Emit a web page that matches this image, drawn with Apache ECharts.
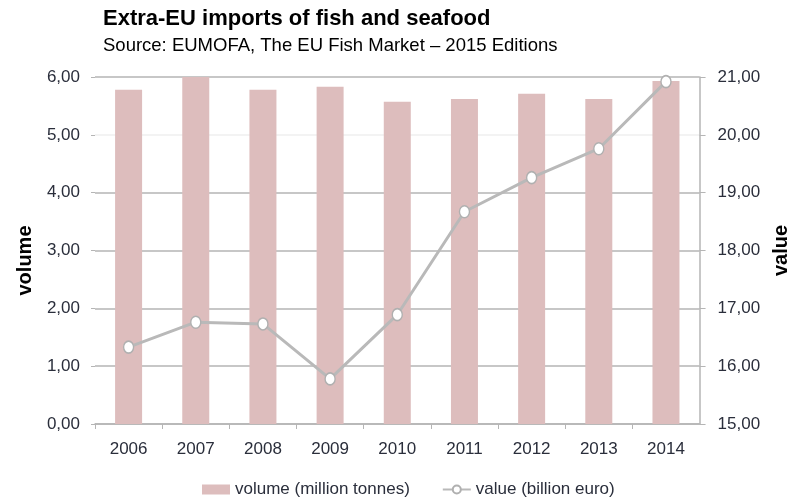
<!DOCTYPE html>
<html>
<head>
<meta charset="utf-8">
<script src="https://cdn.jsdelivr.net/npm/echarts@6/dist/echarts.min.js"></script>
<style>html,body{margin:0;padding:0;background:#fff}#c{width:799px;height:499px}</style>
</head>
<body>
<div id="c"></div>
<script>
var categories = ['2006','2007','2008','2009','2010','2011','2012','2013','2014'];
var volume = [5.78, 6.00, 5.78, 5.83, 5.57, 5.62, 5.71, 5.62, 5.93];
var value = [16.33, 16.76, 16.73, 15.78, 16.89, 18.67, 19.26, 19.76, 20.92];
var leftTicks = [0, 6, 1];   // min, max, interval
var rightTicks = [15, 21, 1];

var chart = echarts.init(document.getElementById('c'), null, {renderer: 'canvas'});
var tickFont = {color: '#2a2e3b', fontFamily: 'Liberation Sans', fontSize: 17};
function fmt(v){ return v.toFixed(2).replace('.', ','); }

chart.setOption({
  animation: false,
  title: {
    text: 'Extra-EU imports of fish and seafood',
    subtext: 'Source: EUMOFA, The EU Fish Market \u2013 2015 Editions',
    left: 98, top: 3, itemGap: 6,
    textStyle: {fontFamily: 'Liberation Sans', fontWeight: 'bold', fontSize: 22, lineHeight: 22, color: '#000'},
    subtextStyle: {fontFamily: 'Liberation Sans', fontSize: 18.5, lineHeight: 19, color: '#000'}
  },
  grid: {left: 95, right: 93, top: 77, bottom: 75},
  legend: {
    top: 476, left: 197, itemGap: 32, itemWidth: 28, itemHeight: 10,
    textStyle: {color: '#2a2e3b', fontFamily: 'Liberation Sans', fontSize: 17, lineHeight: 17},
    data: [{name: 'volume (million tonnes)', icon: 'rect'}, {name: 'value (billion euro)'}]
  },
  xAxis: {
    type: 'category', data: categories,
    axisLine: {lineStyle: {color: '#b5b5b5', width: 1.5}},
    axisTick: {show: true, length: 5, lineStyle: {color: '#b5b5b5'}},
    axisLabel: Object.assign({margin: 17}, tickFont)
  },
  yAxis: [{
    type: 'value', min: leftTicks[0], max: leftTicks[1], interval: leftTicks[2],
    name: 'volume', nameLocation: 'middle', nameGap: 60, nameRotate: 90,
    nameTextStyle: {fontFamily: 'Liberation Sans', fontWeight: 'bold', fontSize: 20, color: '#000', padding: [0, 20, 0, 0]},
    axisLine: {show: false},
    axisTick: {show: true, length: 4, lineStyle: {color: '#b5b5b5'}},
    axisLabel: Object.assign({margin: 15, formatter: fmt}, tickFont),
    splitLine: {lineStyle: {color: ['#b5b5b5','#b5b5b5','#b5b5b5','#b5b5b5','#b5b5b5','#efefef','#b5b5b5'], width: 1.5}}
  }, {
    type: 'value', min: rightTicks[0], max: rightTicks[1], interval: rightTicks[2],
    position: 'right',
    name: 'value', nameLocation: 'middle', nameGap: 66, nameRotate: 90,
    nameTextStyle: {fontFamily: 'Liberation Sans', fontWeight: 'bold', fontSize: 20, color: '#000'},
    axisLine: {show: true, lineStyle: {color: '#b5b5b5', width: 1.5}},
    axisTick: {show: true, length: 6, lineStyle: {color: '#b5b5b5'}},
    axisLabel: Object.assign({margin: 18, formatter: fmt}, tickFont),
    splitLine: {show: false}
  }],
  series: [{
    name: 'volume (million tonnes)', type: 'bar', data: volume, yAxisIndex: 0,
    barWidth: 27,
    itemStyle: {color: '#ddbdbd'}
  }, {
    name: 'value (billion euro)', type: 'line', data: value, yAxisIndex: 1,
    symbol: 'circle', symbolSize: [10, 12],
    lineStyle: {color: '#b9b9b9', width: 3},
    itemStyle: {color: '#ffffff', borderColor: '#b0b0b0', borderWidth: 1.5}
  }]
});
</script>
</body>
</html>
